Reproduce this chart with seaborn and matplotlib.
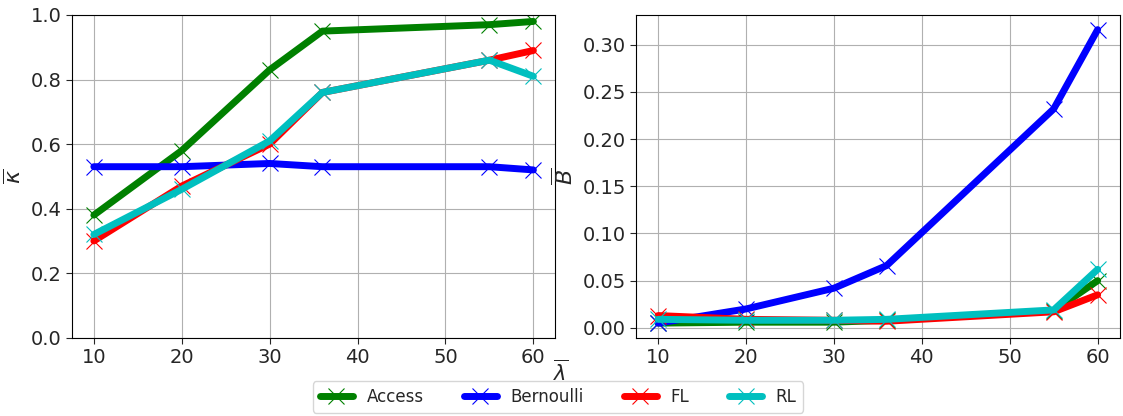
import numpy as np
import pandas as pd
import matplotlib
matplotlib.use("Agg")
import matplotlib.pyplot as plt
import seaborn as sns

# Mean arrival rate values
lam = [10, 20, 30, 36, 55, 60]
methods = ["Access", "Bernoulli", "FL", "RL"]
colors = ["g", "b", "r", "c"]

# Average kappa per method
kappa_access = [0.38, 0.58, 0.83, 0.95, 0.97, 0.98]
kappa_bernoulli = [0.53, 0.53, 0.54, 0.53, 0.53, 0.52]
kappa_fl = [0.30, 0.47, 0.60, 0.76, 0.86, 0.89]
kappa_rl = [0.32, 0.46, 0.61, 0.76, 0.86, 0.81]

# Average B per method
b_access = [0.005, 0.006, 0.006, 0.008, 0.018, 0.050]
b_bernoulli = [0.005, 0.020, 0.042, 0.066, 0.232, 0.316]
b_fl = [0.013, 0.009, 0.008, 0.007, 0.017, 0.035]
b_rl = [0.009, 0.008, 0.008, 0.009, 0.019, 0.062]

kappa = [kappa_access, kappa_bernoulli, kappa_fl, kappa_rl]
bval = [b_access, b_bernoulli, b_fl, b_rl]

rows = []
for m, kv, bv in zip(methods, kappa, bval):
    for x, k, b in zip(lam, kv, bv):
        rows.append({"lam": x, "method": m, "kappa": k, "B": b})
df = pd.DataFrame(rows)

sns.set_style("white")
plt.rcParams["font.family"] = ["DejaVu Sans"]
plt.rcParams["font.size"] = 14

fig, axes = plt.subplots(1, 2, figsize=(11.23, 4.16), dpi=100)
fig.subplots_adjust(left=0.064, right=0.997, top=0.964, bottom=0.188, wspace=0.167)

palette = dict(zip(methods, colors))
for ax, col, lab in zip(axes, ["kappa", "B"], [r"$\overline{\kappa}$", r"$\overline{B}$"]):
    for m in methods:
        sub = df[df["method"] == m]
        sns.lineplot(data=sub, x="lam", y=col, ax=ax, color=palette[m], linewidth=5,
                     marker="x", markersize=12, markeredgewidth=0.8,
                     markeredgecolor=palette[m], markerfacecolor=palette[m],
                     sort=False, label=m, legend=False)
    ax.grid(True, color="#b0b0b0", linewidth=0.8)
    ax.set_xlabel("")
    ax.set_ylabel(lab, fontsize=16, labelpad=4)
    ax.tick_params(labelsize=14, left=True, bottom=True, length=4)
    for s in ax.spines.values():
        s.set_color("black")
        s.set_linewidth(0.8)

axes[0].set_ylim(0, 1.0)
axes[0].set_yticks(np.arange(0, 1.01, 0.2))

fig.text(0.499, 0.105, r"$\overline{\lambda}$", ha="center", va="center", fontsize=15)

handles, labels = axes[0].get_legend_handles_labels()
fig.legend(handles, labels, loc="lower center", bbox_to_anchor=(0.497, -0.012), ncol=4,
           fontsize=12, frameon=True, columnspacing=2.4, handlelength=2.0)

fig.savefig("out.png", dpi=100)
